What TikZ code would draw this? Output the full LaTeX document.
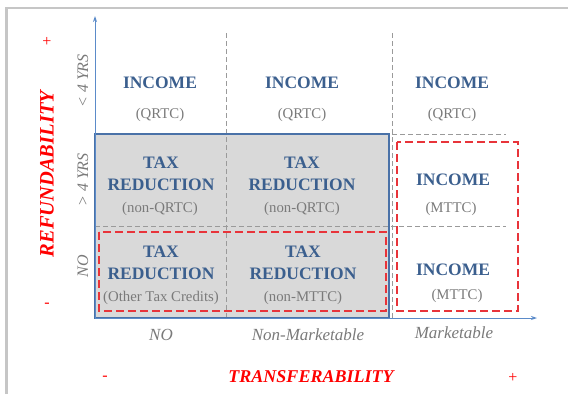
\documentclass[tikz,border=0pt]{standalone}
\usepackage{fontspec}
\setmainfont{Liberation Serif}
\usetikzlibrary{arrows.meta}
\definecolor{txtblue}{HTML}{3B5F8E}
\definecolor{txtgrey}{HTML}{7A7A7A}
\definecolor{axisblue}{HTML}{5B8BC9}
\definecolor{boxblue}{HTML}{4A72A8}
\definecolor{cellgrey}{HTML}{D9D9D9}
\definecolor{dashgrey}{HTML}{9A9A9A}
\definecolor{framegrey}{HTML}{C6C6C6}
\definecolor{redline}{HTML}{E8343A}
\tikzset{
  head/.style={font=\fontsize{17.5}{22}\selectfont\bfseries, text=txtblue, align=center, inner sep=0pt},
  sub/.style={font=\fontsize{14.8}{16}\selectfont, text=txtgrey, inner sep=0pt},
  axlab/.style={font=\fontsize{17}{19}\selectfont\itshape, text=txtgrey, inner sep=0pt},
  ylab/.style={font=\fontsize{16}{18}\selectfont\itshape, text=txtgrey, inner sep=0pt},
  title/.style={font=\fontsize{18}{20}\selectfont\bfseries\itshape, text=red, inner sep=0pt},
  sign/.style={font=\fontsize{16}{18}\selectfont, text=red, inner sep=0pt},
  griddash/.style={draw=dashgrey, line width=0.9pt, dash pattern=on 5pt off 3pt},
  reddash/.style={draw=redline, line width=1.4pt, dash pattern=on 8pt off 4pt},
  axisline/.style={draw=axisblue, line width=1pt, -{Stealth[length=6pt,width=4pt]}},
}
\begin{document}
\begin{tikzpicture}[x=1pt,y=-1pt]
\useasboundingbox (0,0) rectangle (568,394);
% frame
\draw[framegrey, line width=2.2pt] (6.5,394) -- (6.5,8) -- (568,8);
% grey block
\fill[cellgrey] (95,134) rectangle (389,318);
% grid dashes
\draw[griddash] (226,33) -- (226,318);
\draw[griddash] (392,33) -- (392,318);
\draw[griddash] (95,226) -- (506,226);
\draw[griddash] (392,134) -- (506,134);
% box border
\draw[boxblue, line width=1.3pt] (95,134) rectangle (389,318);
% red dashed boxes
\draw[reddash] (99,232) rectangle (386,311);
\draw[reddash] (397,142) rectangle (518,311);
% axes
\coordinate (O) at (95,318);
\coordinate (Ytip) at (95,16);
\coordinate (Xtip) at (537,318);
\draw[axisline] (O) -- (Ytip);
\draw[axisline] (O) -- (Xtip);
% row 1
\node[head] (i11) at (160,83) {INCOME};
\node[sub] (s11) at (160,115) {(QRTC)};
\node[head] (i12) at (302,83) {INCOME};
\node[sub] (s12) at (302,115) {(QRTC)};
\node[head] (i13) at (452,83) {INCOME};
\node[sub] (s13) at (452,115) {(QRTC)};
% row 2
\node[head] (t21) at (161,174) {TAX\\REDUCTION};
\node[sub] (s21) at (160,209) {(non-QRTC)};
\node[head] (t22) at (302,174) {TAX\\REDUCTION};
\node[sub] (s22) at (302,209) {(non-QRTC)};
\node[head] (i23) at (453,180) {INCOME};
\node[sub] (s23) at (451,209) {(MTTC)};
% row 3
\node[head] (t31) at (161,263) {TAX\\REDUCTION};
\node[sub] (s31) at (161,298) {(Other Tax Credits)};
\node[head] (t32) at (303,263) {TAX\\REDUCTION};
\node[sub] (s32) at (303,298) {(non-MTTC)};
\node[head] (i33) at (453,270) {INCOME};
\node[sub] (s33) at (457,296) {(MTTC)};
% y labels
\node[ylab, rotate=90] (ylt) at (83,81) {< 4 YRS};
\node[ylab, rotate=90] (ygt) at (83,180) {> 4 YRS};
\node[ylab, rotate=90] (yno) at (83,266) {NO};
% x labels
\node[axlab] (xno) at (161,335) {NO};
\node[axlab] (xnm) at (308,335) {Non-Marketable};
\node[axlab] (xm) at (454,333) {Marketable};
% titles
\node[title, font=\fontsize{20.5}{22}\selectfont\bfseries\itshape, rotate=90] (refund) at (47,174) {REFUNDABILITY};
\node[title] (transf) at (311,377) {TRANSFERABILITY};
\node[sign] (yplus) at (47,42) {+};
\node[sign] (yminus) at (47,305) {-};
\node[sign] (xminus) at (105,378) {-};
\node[sign] (xplus) at (513,378) {+};
\end{tikzpicture}
\end{document}
